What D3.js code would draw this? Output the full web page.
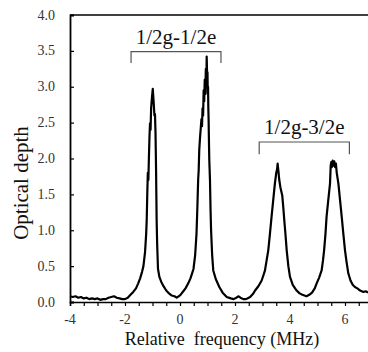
<!DOCTYPE html>
<html><head><meta charset="utf-8">
<script src="https://cdn.jsdelivr.net/npm/d3@7"></script>
</head><body style="margin:0">
<svg id="chart" width="368" height="352" style="display:block"></svg>
<script>
// ---- data ----
const freq = [-4.00,-3.90,-3.80,-3.70,-3.60,-3.50,-3.40,-3.30,-3.20,-3.10,-3.00,-2.90,-2.80,-2.70,-2.60,-2.50,-2.40,-2.30,-2.20,-2.10,-2.00,-1.90,-1.80,-1.70,-1.60,-1.52,-1.45,-1.38,-1.33,-1.27,-1.23,-1.21,-1.19,-1.17,-1.15,-1.13,-1.11,-1.09,-1.07,-1.05,-1.02,-0.99,-0.96,-0.93,-0.91,-0.89,-0.88,-0.87,-0.86,-0.85,-0.83,-0.80,-0.75,-0.68,-0.60,-0.50,-0.40,-0.30,-0.20,-0.12,-0.05,0.02,0.06,0.12,0.20,0.30,0.38,0.44,0.49,0.55,0.60,0.63,0.66,0.68,0.70,0.73,0.75,0.78,0.80,0.82,0.84,0.86,0.88,0.90,0.92,0.94,0.96,0.97,0.99,1.00,1.01,1.02,1.03,1.04,1.05,1.065,1.09,1.11,1.13,1.17,1.21,1.30,1.43,1.55,1.70,1.85,1.95,2.05,2.12,2.20,2.30,2.40,2.50,2.55,2.65,2.73,2.85,2.97,3.04,3.09,3.15,3.21,3.27,3.33,3.39,3.45,3.50,3.53,3.55,3.58,3.61,3.65,3.72,3.76,3.79,3.84,3.88,3.94,4.00,4.10,4.24,4.35,4.45,4.60,4.70,4.80,4.90,4.97,5.06,5.15,5.20,5.24,5.29,5.33,5.40,5.455,5.48,5.50,5.52,5.55,5.58,5.61,5.64,5.67,5.70,5.76,5.82,5.88,5.94,6.00,6.06,6.12,6.20,6.28,6.36,6.45,6.55,6.67,6.75,6.84];
const opticalDepth = [0.08,0.07,0.08,0.06,0.07,0.05,0.06,0.04,0.05,0.04,0.05,0.03,0.04,0.04,0.06,0.07,0.08,0.06,0.05,0.04,0.04,0.06,0.10,0.14,0.19,0.26,0.33,0.42,0.50,0.70,0.95,1.15,1.50,1.80,1.70,2.02,2.30,2.49,2.40,2.70,2.85,2.97,2.80,2.60,2.62,2.35,2.10,1.84,1.50,1.15,0.80,0.46,0.35,0.28,0.22,0.16,0.12,0.09,0.08,0.06,0.08,0.10,0.12,0.15,0.19,0.26,0.33,0.40,0.46,0.65,0.95,1.30,1.70,1.84,2.12,2.30,2.40,2.55,2.45,2.70,2.60,2.95,2.80,3.10,2.90,3.25,3.05,3.42,3.10,3.20,2.90,3.00,2.70,2.55,2.30,1.98,1.70,1.30,1.00,0.65,0.44,0.32,0.21,0.13,0.07,0.05,0.04,0.06,0.08,0.06,0.04,0.04,0.06,0.07,0.11,0.16,0.22,0.30,0.38,0.44,0.58,0.72,0.95,1.19,1.42,1.65,1.80,1.85,1.93,1.82,1.70,1.60,1.48,1.30,1.15,0.92,0.72,0.50,0.35,0.24,0.16,0.12,0.10,0.08,0.10,0.13,0.19,0.26,0.34,0.44,0.58,0.72,0.95,1.19,1.45,1.65,1.90,1.95,1.88,1.97,1.90,1.96,1.88,1.93,1.80,1.65,1.42,1.19,0.95,0.72,0.55,0.40,0.30,0.24,0.21,0.19,0.16,0.14,0.15,0.13];
const xTicks = [-4,-2,0,2,4,6];
const xMinorTicks = [-4,-3.5,-3,-2.5,-2,-1.5,-1,-0.5,0,0.5,1,1.5,2,2.5,3,3.5,4,4.5,5,5.5,6,6.5];
const yTicks = [0,0.5,1,1.5,2,2.5,3,3.5,4];
const labelText = ["1/2g-1/2e","1/2g-3/2e"];
const bracketStart = [-1.78, 2.88];
const bracketEnd = [1.49, 6.16];
const bracketTop = [3.49, 2.23];
const bracketFoot = [3.33, 2.06];

// ---- layout ----
const svg = d3.select("#chart").attr("font-family", "Liberation Serif");
const mLeft = 70, mTop = 15, mBottom = 302;
const x = d3.scaleLinear().domain([-4, 7]).range([mLeft, mLeft + 11 * 27.5]);
const y = d3.scaleLinear().domain([0, 4]).range([mBottom, mTop]);
const FONT = "Liberation Serif";

// frame top line
svg.append("line").attr("x1", mLeft).attr("x2", x(7)).attr("y1", y(4)).attr("y2", y(4))
  .attr("stroke", "#000").attr("stroke-width", 1.5);

// x axis
const gx = svg.append("g").attr("transform", `translate(0,${mBottom})`);
gx.call(d3.axisBottom(x).tickValues(xMinorTicks).tickSize(4).tickFormat(""));
gx.select(".domain").attr("stroke-width", 1.5);
gx.selectAll(".tick line").attr("stroke-width", 1.2);
svg.append("g").selectAll("text").data(xTicks).join("text")
  .attr("x", d => x(d)).attr("y", 324).attr("text-anchor", "middle")
  .attr("font-family", FONT).attr("font-size", 14).attr("fill", "#333")
  .text(d => d);

// y axis
const gy = svg.append("g").attr("transform", `translate(${mLeft},0)`);
gy.call(d3.axisRight(y).tickValues(yTicks).tickSize(4).tickFormat(""));
gy.select(".domain").attr("stroke-width", 1.8);
gy.selectAll(".tick line").attr("stroke-width", 1.2);
svg.append("g").selectAll("text").data(yTicks).join("text")
  .attr("x", 55).attr("y", d => y(d) + 4.5).attr("text-anchor", "end")
  .attr("font-family", FONT).attr("font-size", 14).attr("fill", "#333")
  .text(d => d.toFixed(1));

// axis titles
svg.append("text").attr("x", 222).attr("y", 345).attr("text-anchor", "middle")
  .attr("font-family", FONT).attr("font-size", 18).attr("fill", "#111")
  .attr("xml:space", "preserve").text("Relative  frequency (MHz)");
svg.append("text").attr("transform", "translate(28,183) rotate(-90)").attr("text-anchor", "middle")
  .attr("font-family", FONT).attr("font-size", 21).attr("fill", "#111")
  .text("Optical depth");

// spectrum
const pts = freq.map((f, i) => [f, opticalDepth[i]]);
svg.append("path").datum(pts)
  .attr("fill", "none").attr("stroke", "#000").attr("stroke-width", 2.2).attr("stroke-linejoin", "round")
  .attr("d", d3.line().x(d => x(d[0])).y(d => y(d[1])));

// brackets + labels
labelText.forEach((t, i) => {
  const x0 = x(bracketStart[i]), x1 = x(bracketEnd[i]);
  const yt = y(bracketTop[i]), yf = y(bracketFoot[i]);
  svg.append("path").attr("d", `M${x0},${yf}V${yt}H${x1}V${yf}`)
    .attr("fill", "none").attr("stroke", "#555").attr("stroke-width", 1.2);
  svg.append("text").attr("x", (x0 + x1) / 2).attr("y", yt - 8).attr("text-anchor", "middle")
    .attr("font-family", FONT).attr("font-size", 21).attr("fill", "#111").text(t);
});
</script>
</body></html>
